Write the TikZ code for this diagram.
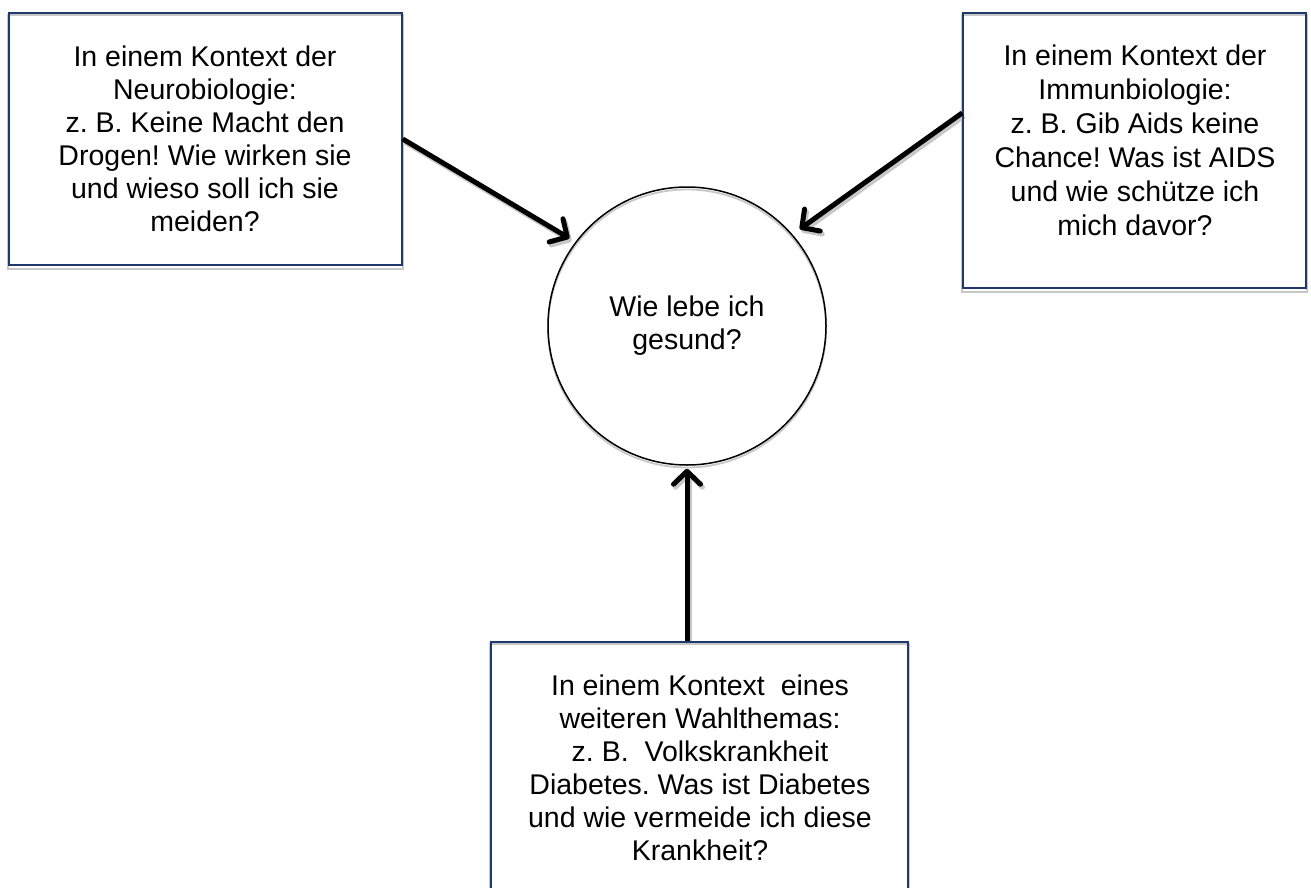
\documentclass[tikz,border=0pt]{standalone}
\usepackage{fontspec}
\setmainfont{Liberation Sans}
\usetikzlibrary{arrows.meta,calc,backgrounds}
\definecolor{boxblue}{RGB}{31,56,110}
\definecolor{shadowgray}{RGB}{200,200,200}
\frenchspacing
\begin{document}
\begin{tikzpicture}[x=1pt,y=-1pt,
  box/.style={draw=boxblue, line width=1.5pt, rectangle, inner sep=0pt},
  bubble/.style={draw=black, line width=1.5pt, circle, inner sep=0pt, minimum size=278pt, align=center,
     font=\fontsize{28.5}{33}\selectfont},
  txt/.style={align=center, inner sep=0pt, anchor=north},
  shadowline/.style={draw=shadowgray, line width=1.8pt},
  conn/.style={line width=5pt, -{Straight Barb[length=13pt,width=27pt,round]}},
  connshadow/.style={conn, draw=shadowgray, transform canvas={shift={(2pt,-3pt)}}}
]
\useasboundingbox (0,0) rectangle (1311,888);
\clip (0,0) rectangle (1311,888);

% boxes
\node[box, minimum width=393pt, minimum height=252pt] (lbox) at (205.5,139) {};
\node[box, minimum width=343pt, minimum height=275pt] (rbox) at (1134.5,150.5) {};
\node[box, minimum width=417pt, minimum height=268pt] (bbox) at (699.5,776) {};
\node[bubble] (circ) at (687,326) {Wie lebe ich\\gesund?};

% texts
\node[txt, font=\fontsize{28.5}{33}\selectfont] (ltxt) at (205,46)
  {In einem Kontext der\\Neurobiologie:\\z. B. Keine Macht den\\Drogen! Wie wirken sie\\und wieso soll ich sie\\meiden?};
\node[txt, font=\fontsize{28.5}{34}\selectfont] (rtxt) at (1135,45)
  {In einem Kontext der\\Immunbiologie:\\z. B. Gib Aids keine\\Chance! Was ist AIDS\\und wie schütze ich\\mich davor?};
\node[txt, font=\fontsize{28.5}{33}\selectfont] (btxt) at (700,675)
  {In einem Kontext\ \ eines\\weiteren Wahlthemas:\\z. B.\ \ Volkskrankheit\\Diabetes. Was ist Diabetes\\und wie vermeide ich diese\\Krankheit?};

\coordinate (rstart) at ($(rbox.north west)!0.364!(rbox.south west)$);
\coordinate (bstart) at (circ.south |- bbox.north);

% shadows
\begin{scope}[on background layer]
  \draw[shadowline] ([yshift=-3pt]lbox.north west) rectangle ([yshift=-3pt]lbox.south east);
  \draw[shadowline] ([yshift=-3pt]rbox.north west) rectangle ([yshift=-3pt]rbox.south east);
  \draw[shadowline] ([yshift=-3pt]bbox.north west) rectangle ([yshift=-3pt]bbox.south east);
  \draw[shadowline] ([yshift=-2.5pt]circ.center) circle (139pt);
  \draw[connshadow, shorten >=7pt] (lbox.east) -- (circ.143);
  \draw[connshadow, shorten >=9pt] (rstart) -- (circ.41);
  \draw[connshadow, shorten >=3pt] (bstart) -- (circ.south);
\end{scope}

% connectors
\draw[conn, shorten >=7pt] (lbox.east) -- (circ.143);
\draw[conn, shorten >=9pt] (rstart) -- (circ.41);
\draw[conn, shorten >=3pt] (bstart) -- (circ.south);
\end{tikzpicture}
\end{document}
